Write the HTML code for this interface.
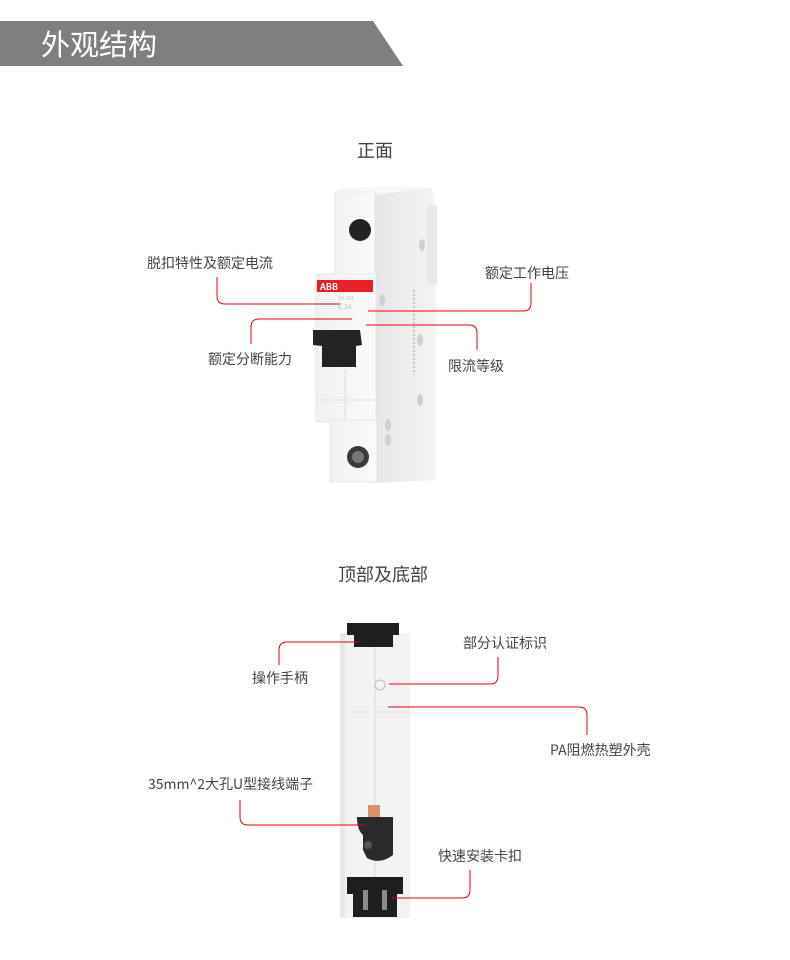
<!DOCTYPE html>
<html><head><meta charset="utf-8"><style>
html,body{margin:0;padding:0;background:#fff;}
svg{display:block;}
text{font-family:"Noto Sans CJK SC",sans-serif;}
</style></head><body>
<svg width="790" height="960" viewBox="0 0 790 960" xmlns="http://www.w3.org/2000/svg">
<defs>
<linearGradient id="side" x1="0" x2="1"><stop offset="0" stop-color="#e6e6e8"/><stop offset="1" stop-color="#f4f4f5"/></linearGradient>
<linearGradient id="front" x1="0" x2="1"><stop offset="0" stop-color="#f2f2f3"/><stop offset="1" stop-color="#fafafa"/></linearGradient>
</defs>
<polygon points="0,21 373,21 403,66 0,66" fill="#7f7f7f"/>
<text x="41" y="55" font-size="29" fill="#fff">外观结构</text>

<text x="375" y="157" font-size="18" fill="#444" text-anchor="middle">正面</text>

<g>
<polygon points="372,195 432,188 436,210 436,480 372,483" fill="url(#side)"/>
<rect x="427" y="205" width="10" height="80" fill="#e9e9eb"/>
<polygon points="335,195 372,195 432,188 395,186 340,188" fill="#f7f7f7"/>
<rect x="335" y="192" width="40" height="84" fill="url(#front)" stroke="#ddd" stroke-width="0.6"/>
<circle cx="360" cy="230" r="11" fill="#222"/>
<rect x="316" y="274" width="60" height="148" fill="url(#front)" stroke="#ddd" stroke-width="0.6"/>
<rect x="317" y="280" width="56" height="12" fill="#e8202a"/>
<text x="320" y="290" font-size="9" font-weight="bold" fill="#fff">ABB</text>
<text x="338" y="300" font-size="5" fill="#bbb">SH 201</text>
<text x="338" y="309" font-size="7" fill="#bbb">C 16</text>
<line x1="345" y1="370" x2="345" y2="420" stroke="#ddd"/>
<line x1="316" y1="400" x2="376" y2="400" stroke="#e2e2e2"/>
<path d="M313,330 L360,330 L362,345 L356,346 L356,367 L322,367 L322,346 L313,345 Z" fill="#232225"/>
<rect x="330" y="420" width="47" height="62" fill="url(#front)" stroke="#ddd" stroke-width="0.6"/>
<circle cx="358" cy="457" r="11" fill="#3a3a3a"/>
<circle cx="358" cy="457" r="6" fill="#777"/>
<g fill="#cfcfd4"><ellipse cx="422" cy="245" rx="3" ry="6"/><ellipse cx="382" cy="300" rx="3" ry="6"/><ellipse cx="420" cy="340" rx="3" ry="6"/><ellipse cx="420" cy="400" rx="3" ry="6"/><ellipse cx="388" cy="425" rx="3" ry="6"/><ellipse cx="388" cy="440" rx="3" ry="6"/></g>
<line x1="414" y1="290" x2="414" y2="375" stroke="#c8c8cc" stroke-width="2" stroke-dasharray="2,2"/>
</g>

<g fill="none" stroke="#e60012" stroke-width="1">
<path d="M217,277 V296 Q217,304 225,304 H340"/>
<path d="M531,283 V303 Q531,311 523,311 H368"/>
<path d="M251,344 V327 Q251,319 259,319 H352"/>
<path d="M477,350 V333 Q477,325 469,325 H366"/>
</g>
<g font-size="14" fill="#444">
<text x="147" y="268">脱扣特性及额定电流</text>
<text x="485" y="278">额定工作电压</text>
<text x="208" y="364">额定分断能力</text>
<text x="448" y="371">限流等级</text>
</g>

<text x="383" y="581" font-size="18" fill="#444" text-anchor="middle">顶部及底部</text>

<g>
<rect x="340" y="633" width="70" height="285" fill="#f3f3f4"/>
<rect x="340" y="633" width="5" height="285" fill="#e8e8ea"/>
<line x1="375" y1="645" x2="375" y2="918" stroke="#d8d8da"/>
<line x1="340" y1="712" x2="410" y2="712" stroke="#e3e3e5"/>
<rect x="347" y="623" width="52" height="12" fill="#1e1e20"/>
<rect x="354" y="634" width="39" height="13" fill="#1e1e20"/>
<circle cx="380" cy="685" r="5" fill="none" stroke="#bbb"/>
<rect x="368" y="805" width="12" height="12" fill="#d9936a"/>
<path d="M357,817 H393 V855 Q380,865 367,858 L363,850 V835 Q357,830 357,817 Z" fill="#2a2a2c"/>
<circle cx="368" cy="845" r="4" fill="#555"/>
<path d="M347,877 H403 V894 H397 V917 H353 V894 H347 Z" fill="#1e1e20"/>
<rect x="363" y="890" width="5" height="20" fill="#8a8a8a"/>
<rect x="382" y="890" width="5" height="20" fill="#8a8a8a"/>
</g>

<g fill="none" stroke="#e60012" stroke-width="1">
<path d="M279,665 V650 Q279,642 287,642 H358"/>
<path d="M498,657 V676 Q498,684 490,684 H389"/>
<path d="M587,735 V715 Q587,707 579,707 H388"/>
<path d="M240,800 V817 Q240,825 248,825 H365"/>
<path d="M470,870 V890 Q470,898 462,898 H392"/>
</g>
<g font-size="14" fill="#444">
<text x="252" y="683">操作手柄</text>
<text x="463" y="648">部分认证标识</text>
<text x="550" y="755">PA阻燃热塑外壳</text>
<text x="148" y="789">35mm^2大孔U型接线端子</text>
<text x="438" y="861">快速安装卡扣</text>
</g>
</svg>
</body></html>
